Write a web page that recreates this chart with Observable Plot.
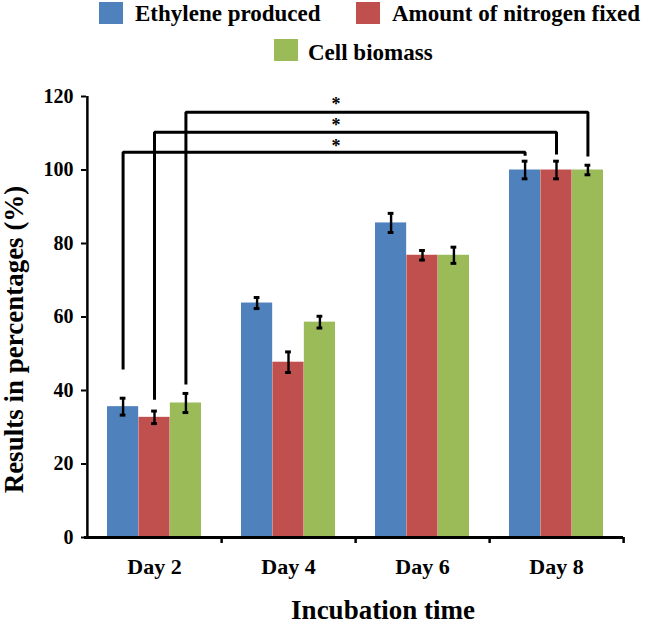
<!DOCTYPE html>
<html>
<head>
<meta charset="utf-8">
<script src="https://cdn.jsdelivr.net/npm/d3@7"></script>
<script src="https://cdn.jsdelivr.net/npm/@observablehq/plot@0.6"></script>
<style>
  body { margin: 0; background: #fff; font-family: "Liberation Serif", Tinos, "Times New Roman", Times, "DejaVu Serif", serif; }
  #legend { position: relative; width: 646px; height: 70px; }
  .sw { position: absolute; width: 24px; height: 22px; }
  .lt { position: absolute; font-weight: bold; font-size: 23px; line-height: 24px; white-space: nowrap; color: #000; }
  #chart svg { display: block; }
</style>
</head>
<body>
<div id="legend"></div>
<div id="chart"></div>
<script>
// ---- data ----
const days = ["Day 2", "Day 4", "Day 6", "Day 8"];
const seriesNames = ["Ethylene produced", "Amount of nitrogen fixed", "Cell biomass"];
const seriesColors = ["#4F81BD", "#C0504D", "#9BBB59"];
const ethylene = [35.6, 63.8, 85.6, 100];
const nitrogen = [32.7, 47.7, 76.8, 100];
const biomass = [36.6, 58.6, 76.8, 100];
const ethyleneErr = [2.3, 1.5, 2.6, 2.4];
const nitrogenErr = [1.7, 2.8, 1.3, 2.4];
const biomassErr = [2.6, 1.6, 2.2, 1.3];
const yTicks = [0, 20, 40, 60, 80, 100, 120];
// significance brackets (Day 2 vs Day 8), one per series
const bracketFrom = "Day 2";
const bracketTo = "Day 8";
const bracketTop = [104.8, 110.3, 115.7];
const bracketLeftEnd = [45.7, 37.5, 41.6];
const bracketRightEnd = [103.9, 104.2, 103.7];
const starY = [106.4, 112.1, 117.9];
const starText = "*";
const yLabel = "Results in percentages (%)";
const xLabel = "Incubation time";

const values = [ethylene, nitrogen, biomass];
const errors = [ethyleneErr, nitrogenErr, biomassErr];

// ---- layout ----
const FONT = "'Liberation Serif', Tinos, 'Times New Roman', Times, 'DejaVu Serif', serif";
const W = 646, H = 554, ML = 86, MR = 23, MT = 26, MB = 87;
const bw = (W - ML - MR) / days.length;
const barW = bw * 0.234;
const capW = 6;

// ---- legend ----
const legendPos = [
  {sx: 99, sy: 1.5, tx: 135, ty: 1.6},
  {sx: 356, sy: 1.5, tx: 392, ty: 1.6},
  {sx: 274, sy: 38.5, tx: 308, ty: 41}
];
const legend = document.getElementById("legend");
seriesNames.forEach((name, s) => {
  const p = legendPos[s];
  const sw = document.createElement("div");
  sw.className = "sw";
  sw.style.left = p.sx + "px"; sw.style.top = p.sy + "px";
  sw.style.background = seriesColors[s];
  legend.appendChild(sw);
  const t = document.createElement("div");
  t.className = "lt";
  t.style.left = p.tx + "px"; t.style.top = p.ty + "px";
  t.textContent = name;
  legend.appendChild(t);
});

// ---- marks ----
const marks = [];
seriesNames.forEach((name, s) => {
  const off = (s - 1) * barW;
  const rows = days.map((d, i) => ({day: d, value: values[s][i], err: errors[s][i]}));
  const side = (bw - barW) / 2;
  marks.push(Plot.barY(rows, {
    x: "day", y: "value", fill: seriesColors[s],
    insetLeft: side + off, insetRight: side - off
  }));
});
seriesNames.forEach((name, s) => {
  const off = (s - 1) * barW;
  const rows = days.map((d, i) => ({day: d, value: values[s][i], err: errors[s][i]}));
  marks.push(Plot.ruleX(rows, {
    x: "day", y1: d => d.value - d.err, y2: d => d.value + d.err,
    dx: off, stroke: "#000", strokeWidth: 2.4
  }));
  for (const fn of [d => d.value - d.err, d => d.value + d.err]) {
    marks.push(Plot.tickY(rows, {
      x: "day", y: fn, dx: off, stroke: "#000", strokeWidth: 3,
      insetLeft: (bw - capW) / 2, insetRight: (bw - capW) / 2
    }));
  }
  // bracket
  const br = [
    {day: bracketFrom, v: bracketLeftEnd[s]},
    {day: bracketFrom, v: bracketTop[s]},
    {day: bracketTo, v: bracketTop[s]},
    {day: bracketTo, v: bracketRightEnd[s]}
  ];
  marks.push(Plot.line(br, {
    x: "day", y: "v", dx: off, stroke: "#000", strokeWidth: 3,
    strokeLinejoin: "miter", strokeLinecap: "butt"
  }));
});
// stars
marks.push(Plot.text(starY, {
  x: () => "Day 4", y: d => d, text: () => starText, dx: 47.5,
  fontSize: 18, fontWeight: "bold", fill: "#000", lineAnchor: "middle"
}));
// axes
marks.push(Plot.axisY({
  ticks: yTicks, tickSize: 5, tickPadding: 8, fontSize: 20, fontWeight: "bold",
  label: null, strokeWidth: 2, color: "#000"
}));
marks.push(Plot.axisX({
  tickSize: 0, tickPadding: 21, fontSize: 22, fontWeight: "bold", label: null, color: "#000"
}));
// axis lines
marks.push(Plot.ruleX([days[0]], {x: d => d, dx: -bw / 2, y1: 0, y2: 120, stroke: "#000", strokeWidth: 2.5}));
marks.push(Plot.ruleY([0], {stroke: "#000", strokeWidth: 3, insetLeft: -2}));
// category boundary ticks on x axis
marks.push(Plot.ruleX(days, {x: d => d, dx: bw / 2, y1: 0, y2: 0, insetBottom: -6, stroke: "#000", strokeWidth: 2.5}));
// axis titles
marks.push(Plot.text([yLabel], {
  frameAnchor: "left", text: d => d, rotate: -90, dx: -72, dy: 22.5,
  fontSize: 27, fontWeight: "bold", fill: "#000", lineAnchor: "middle", textAnchor: "middle"
}));
marks.push(Plot.text([xLabel], {
  frameAnchor: "bottom", text: d => d, dx: 28, dy: 73,
  fontSize: 27, fontWeight: "bold", fill: "#000", lineAnchor: "middle", textAnchor: "middle"
}));

const chart = Plot.plot({
  width: W, height: H,
  marginLeft: ML, marginRight: MR, marginTop: MT, marginBottom: MB,
  style: {fontFamily: FONT, color: "#000", background: "#fff", overflow: "visible"},
  x: {domain: days, padding: 0, axis: null},
  y: {domain: [0, 120], axis: null},
  marks
});
document.getElementById("chart").appendChild(chart);
</script>
</body>
</html>
